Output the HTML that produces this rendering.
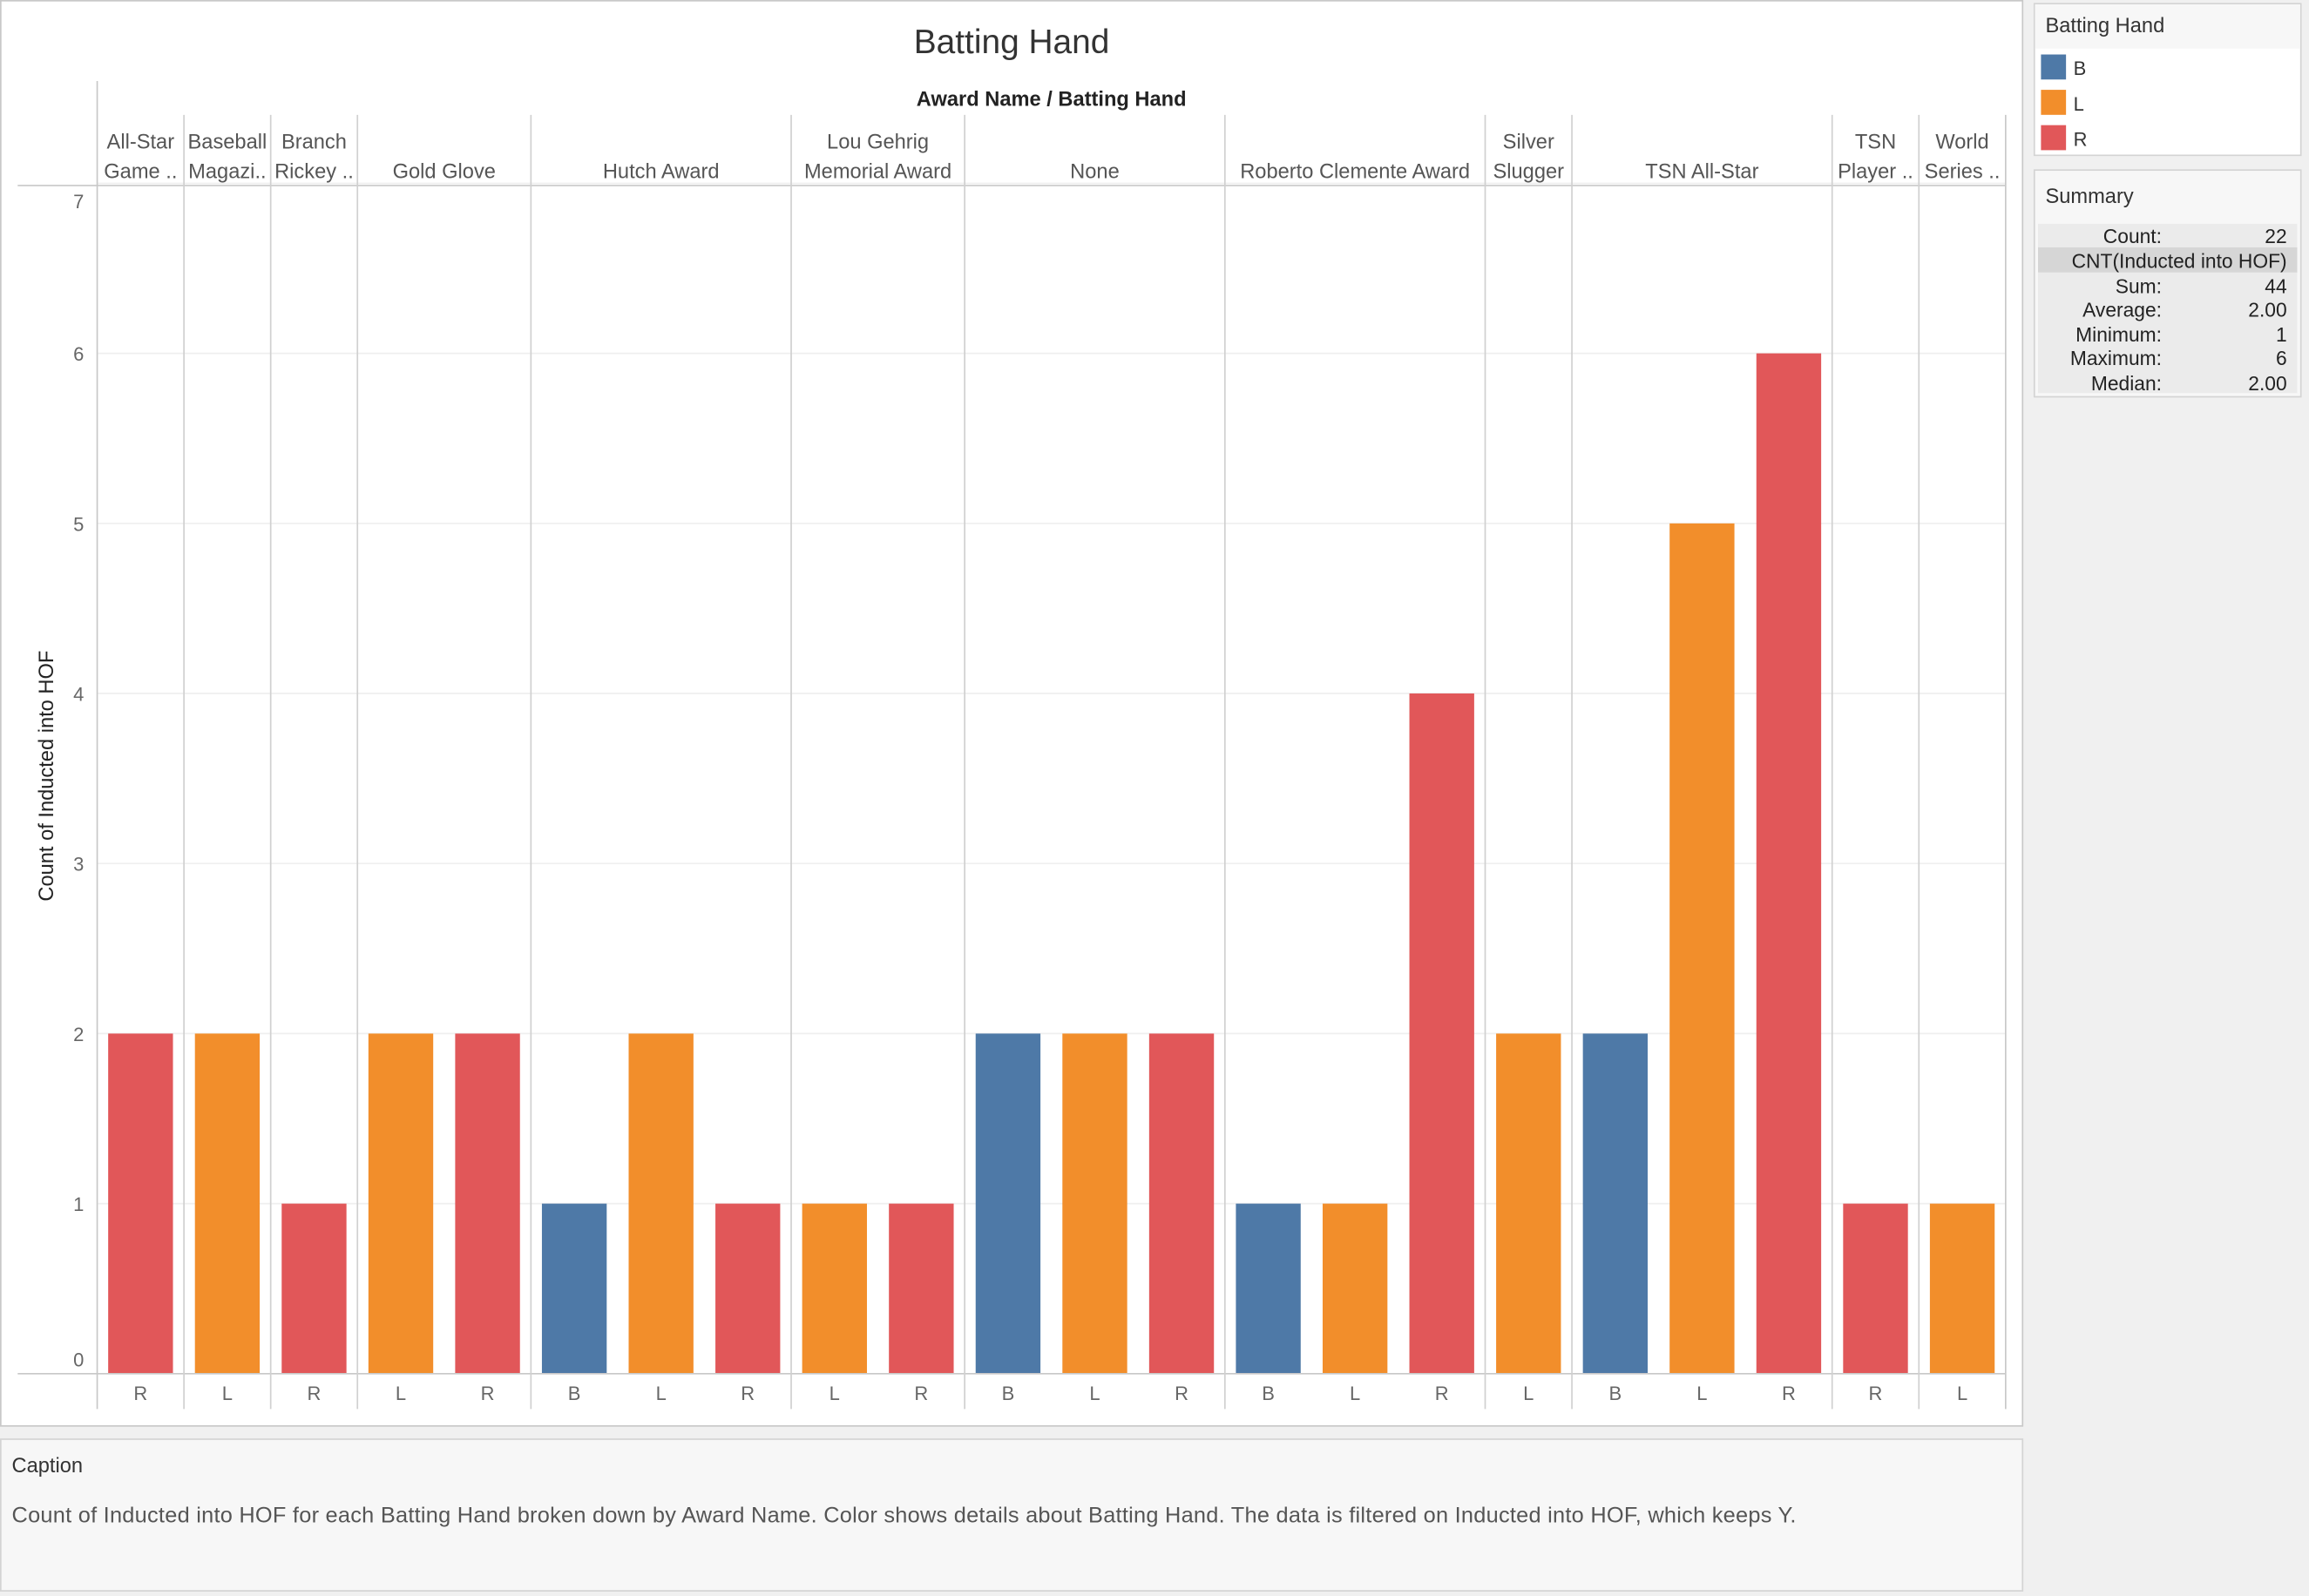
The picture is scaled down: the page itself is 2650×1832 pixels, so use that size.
<!DOCTYPE html>
<html><head><meta charset="utf-8">
<style>
html,body{margin:0;padding:0;background:#fff;}
svg{display:block;font-family:"Liberation Sans",sans-serif;}
</style></head>
<body>
<svg id="chart" width="2650" height="1832" viewBox="0 0 1568 1084" xmlns="http://www.w3.org/2000/svg">
  <rect x="0" y="0" width="1568" height="1084" fill="#f0f0f0"/>
  <rect x="0.5" y="0.5" width="1373" height="968" fill="#fff" stroke="#c8c8c8"/>
  <text x="687" y="36" font-size="23" text-anchor="middle" fill="#333">Batting Hand</text>
  <text x="714" y="72" font-size="14" font-weight="bold" text-anchor="middle" fill="#222">Award Name  /  Batting Hand</text>
  <g id="grid"></g>
  <g id="bars"></g>
  <g id="axes"></g>
  <text transform="translate(36,527) rotate(-90)" font-size="14" text-anchor="middle" fill="#222">Count of Inducted into HOF</text>

  <rect x="1381.5" y="2.5" width="181" height="103" fill="#fff" stroke="#d4d4d4"/>
  <rect x="1382" y="3" width="180" height="30" fill="#f7f7f7"/>
  <text x="1389" y="22" font-size="14" fill="#333">Batting Hand</text>
  <g><rect x="1386" y="37" width="17" height="17" fill="#4e79a7"/><text x="1408" y="51" font-size="13" fill="#333">B</text></g>
  <g><rect x="1386" y="61" width="17" height="17" fill="#f28e2b"/><text x="1408" y="75" font-size="13" fill="#333">L</text></g>
  <g><rect x="1386" y="85" width="17" height="17" fill="#e15759"/><text x="1408" y="99" font-size="13" fill="#333">R</text></g>

  <rect x="1381.5" y="115.5" width="181" height="154" fill="#f7f7f7" stroke="#d4d4d4"/>
  <text x="1389" y="138" font-size="14" fill="#333">Summary</text>
  <rect x="1384" y="152" width="176" height="115" fill="#ebebeb"/>
  <rect x="1384" y="168" width="176" height="17" fill="#d6d6d6"/>
  <g font-size="13.5" fill="#222">
    <text x="1468" y="165" text-anchor="end">Count:</text><text x="1553" y="165" text-anchor="end">22</text>
    <text x="1553" y="182" text-anchor="end">CNT(Inducted into HOF)</text>
    <text x="1468" y="199" text-anchor="end">Sum:</text><text x="1553" y="199" text-anchor="end">44</text>
    <text x="1468" y="215" text-anchor="end">Average:</text><text x="1553" y="215" text-anchor="end">2.00</text>
    <text x="1468" y="232" text-anchor="end">Minimum:</text><text x="1553" y="232" text-anchor="end">1</text>
    <text x="1468" y="248" text-anchor="end">Maximum:</text><text x="1553" y="248" text-anchor="end">6</text>
    <text x="1468" y="265" text-anchor="end">Median:</text><text x="1553" y="265" text-anchor="end">2.00</text>
  </g>

  <rect x="0.5" y="977.5" width="1373" height="103" fill="#f7f7f7" stroke="#d4d4d4"/>
  <text x="8" y="1000" font-size="14" fill="#333">Caption</text>
  <text x="8" y="1034" font-size="15" letter-spacing="0.15" fill="#555">Count of Inducted into HOF for each Batting Hand broken down by Award Name.  Color shows details about Batting Hand. The data is filtered on Inducted into HOF, which keeps Y.</text>
</svg>
<script>
const awards = [["All-Star","Game .."],["Baseball","Magazi.."],["Branch","Rickey .."],["","Gold Glove"],["","Hutch Award"],["Lou Gehrig","Memorial Award"],["","None"],["","Roberto Clemente Award"],["Silver","Slugger"],["","TSN All-Star"],["TSN","Player .."],["World","Series .."]];
const groupHands = [["R"],["L"],["R"],["L","R"],["B","L","R"],["L","R"],["B","L","R"],["B","L","R"],["L"],["B","L","R"],["R"],["L"]];
const groupValues = [[2],[2],[1],[2,2],[1,2,1],[1,1],[2,2,2],[1,1,4],[2],[2,5,6],[1],[1]];
const yTicks = [0,1,2,3,4,5,6,7];

const NS="http://www.w3.org/2000/svg";
const colors={B:"#4e79a7",L:"#f28e2b",R:"#e15759"};
const X0=66, X1=1362, Y0=933, unitH=115.5;
const nCols=groupHands.reduce((s,g)=>s+g.length,0);
const colW=(X1-X0)/nCols;
const yScale=v=>Y0-v*unitH;
const xCol=i=>X0+i*colW;
function mk(tag,attrs,parent,txt){const e=document.createElementNS(NS,tag);for(const k in attrs)e.setAttribute(k,attrs[k]);if(txt!==undefined)e.textContent=txt;parent.appendChild(e);return e;}
const grid=document.getElementById('grid'),bars=document.getElementById('bars'),axes=document.getElementById('axes');

yTicks.forEach(t=>{
  const y=yScale(t);
  if(t>0){const g=mk('line',{x1:X0,x2:X1,y1:y,y2:y,stroke:'#efefef','stroke-width':1},grid);
  
  }
  const lbl=mk('text',{x:57,y:(t===7?y+17:(t===0?y-5:y+5)),'font-size':13,'text-anchor':'end',fill:'#666'},axes,String(t));
  
  
});

mk('line',{x1:12,x2:X1,y1:126,y2:126,stroke:'#c8c8c8'},axes);
mk('line',{x1:12,x2:X1,y1:Y0,y2:Y0,stroke:'#c8c8c8'},axes);
mk('line',{x1:X0,x2:X0,y1:55,y2:957,stroke:'#c8c8c8'},axes);
mk('line',{x1:X1,x2:X1,y1:78,y2:957,stroke:'#c8c8c8'},axes);

let col=0;
groupHands.forEach((hands,gi)=>{
  const gx0=xCol(col), gx1=xCol(col+hands.length);
  if(gi>0){mk('line',{x1:gx0,x2:gx0,y1:78,y2:957,stroke:'#d0d0d0'},axes);}
  const cx=(gx0+gx1)/2;
  const [l1,l2]=awards[gi];
  if(l1){const t=mk('text',{x:cx,y:101,'font-size':14,'text-anchor':'middle',fill:'#555'},axes,l1);
    
    }
  const t2=mk('text',{x:cx,y:121,'font-size':14,'text-anchor':'middle',fill:'#555'},axes,l2);
  
  
  hands.forEach((h,hi)=>{
    const c=col+hi, bx=xCol(c)+colW/2;
    const v=groupValues[gi][hi];
    const r=mk('rect',{x:bx-22,y:yScale(v),width:44,height:Y0-yScale(v),fill:colors[h]},bars);
    
    
    const hl=mk('text',{x:bx,y:951,'font-size':13,'text-anchor':'middle',fill:'#666'},axes,h);
    
    
  });
  col+=hands.length;
});
</script>
</body></html>
